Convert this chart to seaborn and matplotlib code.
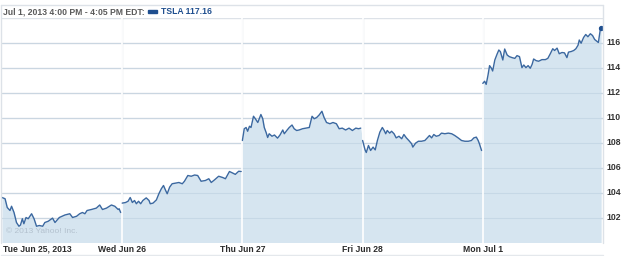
import matplotlib
matplotlib.use("Agg")
import matplotlib.pyplot as plt
import seaborn as sns
import pandas as pd
from matplotlib.patches import Rectangle

# ---- data: minutes after 9:30 open and prices, per trading day ----
day_labels = ["Tue Jun 25, 2013", "Wed Jun 26", "Thu Jun 27", "Fri Jun 28", "Mon Jul 1"]

tue_min = [0, 10, 17, 26, 31, 39, 47, 55, 60, 66, 71, 78, 85, 96, 104, 112, 121, 132, 139, 150,
           164, 172, 186, 204, 220, 229, 242, 252, 261, 269, 276, 290, 306, 317, 326, 339, 355,
           366, 377, 380, 385]
tue_px = [103.6, 103.5, 102.8, 102.56, 102.9, 102.4, 101.6, 101.3, 101.4, 101.9, 101.5, 102.0,
          101.9, 102.3, 101.9, 101.3, 101.36, 101.3, 101.6, 101.7, 101.95, 101.6, 102.0, 102.2,
          102.3, 102.0, 102.1, 102.3, 102.4, 102.3, 102.56, 102.64, 102.75, 103.0, 102.64,
          102.75, 103.0, 102.9, 102.64, 102.7, 102.4]

wed_min = [0, 11, 19, 26, 33, 40, 46, 53, 60, 67, 78, 87, 91, 100, 111, 119, 127, 134, 141, 146,
           154, 162, 173, 184, 195, 202, 213, 224, 235, 245, 256, 270, 281, 289, 299, 313, 326,
           335, 348, 359, 367, 378, 386]
wed_px = [103.15, 103.2, 103.3, 103.6, 103.2, 103.36, 103.1, 103.3, 103.1, 103.36, 103.57,
          103.36, 103.1, 103.15, 103.41, 103.9, 104.3, 104.56, 104.16, 103.9, 104.43, 104.7,
          104.75, 104.8, 104.7, 104.9, 105.36, 105.3, 105.4, 105.36, 104.9, 104.96, 105.1,
          104.8, 105.0, 105.3, 105.2, 105.1, 105.68, 105.55, 105.45, 105.7, 105.68]

thu_min = [0, 6, 12, 17, 23, 28, 36, 42, 50, 60, 66, 71, 77, 82, 87, 96, 104, 114, 122, 131,
           136, 144, 152, 161, 168, 176, 184, 195, 206, 217, 226, 233, 241, 249, 258, 265, 273,
           284, 294, 305, 314, 324, 335, 346, 357, 368, 377, 384]
thu_px = [108.16, 109.1, 109.2, 108.9, 109.3, 109.2, 110.1, 109.9, 109.6, 110.24, 109.9, 109.2,
          108.8, 108.4, 108.7, 108.5, 108.6, 108.35, 108.6, 109.0, 108.7, 108.96, 109.2, 109.4,
          109.1, 108.96, 109.0, 109.1, 109.15, 109.2, 110.1, 109.9, 110.0, 110.2, 110.5, 110.0,
          109.6, 109.5, 109.6, 109.5, 109.1, 109.15, 109.0, 109.15, 108.96, 109.15, 109.1,
          109.15]

fri_min = [0, 8, 12, 19, 26, 34, 41, 48, 56, 64, 70, 75, 80, 88, 94, 102, 109, 118, 127, 134,
           142, 150, 159, 163, 172, 181, 191, 202, 210, 217, 224, 231, 239, 248, 256, 267, 278,
           289, 299, 310, 321, 332, 343, 353, 361, 369, 375, 379, 386]
fri_px = [108.16, 107.41, 107.2, 107.76, 107.36, 107.63, 107.41, 108.16, 108.83, 109.2, 108.96,
          108.7, 108.96, 108.75, 108.9, 108.7, 108.37, 108.5, 108.3, 108.64, 108.37, 108.16,
          107.9, 107.63, 107.95, 108.1, 108.1, 108.16, 108.37, 108.56, 108.37, 108.64, 108.5,
          108.56, 108.75, 108.7, 108.75, 108.7, 108.56, 108.37, 108.16, 108.1, 108.1, 108.16,
          108.37, 108.43, 108.16, 107.9, 107.36]

mon_min = [0, 6, 11, 17, 22, 28, 32, 39, 46, 52, 57, 65, 71, 79, 86, 95, 104, 111, 119, 127,
           133, 140, 147, 154, 160, 165, 173, 181, 192, 203, 211, 219, 227, 233, 241, 248, 257,
           265, 273, 278, 287, 295, 302, 309, 313, 319, 327, 334, 341, 349, 356, 363, 370, 375,
           381, 384]
mon_px = [112.73, 112.9, 112.65, 113.4, 114.15, 113.94, 113.72, 114.6, 115.05, 115.4, 115.27,
          114.6, 115.48, 115.0, 114.87, 114.79, 114.73, 114.95, 114.87, 113.99, 114.2, 113.99,
          114.15, 113.94, 114.25, 114.68, 114.55, 114.5, 114.63, 114.63, 114.73, 115.1, 115.5,
          115.36, 115.55, 115.1, 115.2, 115.17, 114.79, 115.23, 115.28, 115.36, 115.5, 115.78,
          116.2, 115.94, 116.4, 116.64, 116.46, 116.7, 116.56, 116.24, 116.1, 116.0, 117.0,
          117.16]

y_ticks = [102, 104, 106, 108, 110, 112, 114, 116]
header_text = "Jul 1, 2013 4:00 PM - 4:05 PM EDT:"
legend_text = "TSLA 117.16"
watermark = "\u00a9 2013 Yahoo! Inc."

SESSION = 390.0
frames = []
for i, (m, p) in enumerate([(tue_min, tue_px), (wed_min, wed_px), (thu_min, thu_px),
                            (fri_min, fri_px), (mon_min, mon_px)]):
    frames.append(pd.DataFrame({"pos": [i + v / SESSION for v in m], "price": p, "day": i}))
df = pd.concat(frames, ignore_index=True)

# ---- style ----
sns.set_theme(style="white")
plt.rcParams["font.family"] = ["Liberation Sans", "DejaVu Sans"]

W, H = 625, 256
fig = plt.figure(figsize=(W / 100, H / 100), dpi=100)
fig.patch.set_facecolor("white")
ax = fig.add_axes([2 / W, 13.5 / H, 601 / W, 225 / H])
ax.set_facecolor("white")

LINE = "#3b68a0"
FILL = "#d6e5f0"
GRID = "#dde2e8"
FS = 6.2

ax.set_xlim(0, 5)
ax.set_ylim(100, 118)

# gray gridlines (below fill)
for yv in y_ticks:
    ax.axhline(yv, color=GRID, lw=1, zorder=0)
for xv in range(1, 5):
    ax.axvline(xv, color=GRID, lw=1, zorder=0)

ax.fill_between(df["pos"], df["price"], 100, color=FILL, lw=0, zorder=1)

# gridlines over fill
for yv in y_ticks:
    ax.axhline(yv, color="#a9c0d4", lw=0.8, alpha=0.35, zorder=2)
for xv in range(1, 5):
    ax.axvline(xv, color="white", lw=1.2, zorder=2)

sns.lineplot(data=df, x="pos", y="price", units="day", estimator=None, color=LINE,
             lw=1.0, ax=ax, zorder=3, legend=False)
last = df.iloc[-1]
ax.plot([last["pos"]], [last["price"]], "o", ms=2.8, color="#1f4f8f", zorder=4)

ax.set_xlabel("")
ax.set_ylabel("")
ax.set_xticks([])
ax.set_yticks([])
for s in ax.spines.values():
    s.set_visible(False)
ax.axhline(118, color=GRID, lw=1, zorder=0)

# y labels on right
for yv in y_ticks:
    ax.text(1.005, (yv - 100) / 18, str(yv), transform=ax.transAxes, ha="left",
            va="center", fontsize=FS, fontweight="bold", color="#333333")

# x labels (centred about 6.5 px below the plot)
tick_y = -6.5 / 225
ax.text(0.0015, tick_y, day_labels[0], transform=ax.transAxes, ha="left", va="center",
        fontsize=FS, fontweight="bold", color="#2b2b2b")
for i in range(1, 5):
    ax.text(i / 5, tick_y, day_labels[i], transform=ax.transAxes, ha="center", va="center",
            fontsize=FS, fontweight="bold", color="#2b2b2b")

ax.text(0.006, 0.035, watermark, transform=ax.transAxes, ha="left", va="bottom",
        fontsize=6.0, color="#b3c1ce")

# header
fig.text(3 / W, 1 - 11.5 / H, header_text, ha="left", va="center", fontsize=FS,
         fontweight="bold", color="#5a5a5a")
fig.patches.append(Rectangle((148 / W, 1 - 13 / H), 9 / W, 3.5 / H, transform=fig.transFigure,
                             color="#1f4f8f", figure=fig))
fig.text(161 / W, 1 - 11.5 / H, legend_text, ha="left", va="center", fontsize=FS,
         fontweight="bold", color="#1f4f8f")

# outer frame lines
fig.add_artist(plt.Line2D([1 / W, 603 / W], [1 - 5 / H, 1 - 5 / H], color=GRID, lw=1,
                          transform=fig.transFigure))
fig.add_artist(plt.Line2D([603 / W, 603 / W], [1 - 5 / H, 1 - 242.5 / H], color=GRID,
                          lw=1, transform=fig.transFigure))
fig.add_artist(plt.Line2D([1 / W, 1 / W], [1 - 5 / H, 1 - 242.5 / H], color=GRID,
                          lw=1, transform=fig.transFigure))
fig.add_artist(plt.Line2D([1 / W, 603 / W], [1 - 254.5 / H, 1 - 254.5 / H], color="#e4e8ec",
                          lw=1, transform=fig.transFigure))

fig.savefig("out.png", dpi=100, facecolor="white")
